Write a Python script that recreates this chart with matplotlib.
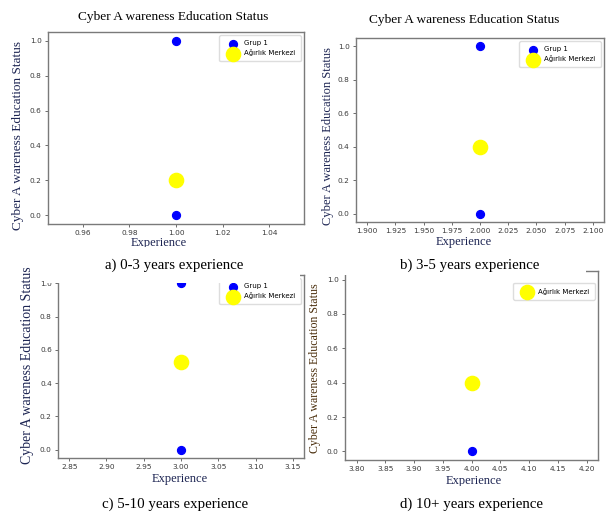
import matplotlib
matplotlib.use("Agg")
import matplotlib.pyplot as plt
from matplotlib.patches import Rectangle

# veriler
deneyim = [1, 2, 3, 4]
grup1_a = [0, 1]
grup1_b = [0, 1]
grup1_c = [0, 1]
grup1_d = [0]
merkez = [0.2, 0.4, 0.525, 0.4]
alt_yazilar = ["a) 0-3 years experience", "b) 3-5 years experience",
               "c) 5-10 years experience", "d) 10+ years experience"]

W, H = 606, 512
SERIF = "Liberation Serif"
fig = plt.figure(figsize=(W / 100, H / 100), dpi=100)


def kutu(x0, y0, x1, y1):
    # piksel -> figur orani
    return [x0 / W, 1 - y1 / H, (x1 - x0) / W, (y1 - y0) / H]


def yazi(x, y, s, **kw):
    return fig.text(x / W, 1 - y / H, s, ha="center", va="center", **kw)


def panel(rect, x, grup, m, legend_grup=True, anchor=(1, 1)):
    ax = fig.add_axes(kutu(*rect))
    ax.scatter([x] * len(grup), grup, s=32, color="#0000ff",
               label="Grup 1" if legend_grup else "_nolegend_", zorder=3)
    ax.scatter([x], [m], s=105, color="#ffff00", label="Ağırlık Merkezi", zorder=3)
    ax.set_ylim(-0.05, 1.05)
    ax.tick_params(labelsize=5.3, labelcolor="#3a3a3a", color="#555555",
                   length=2.5, width=0.6, pad=2)
    for sp in ax.spines.values():
        sp.set_color("#7a7a7a")
        sp.set_linewidth(1.0)
    ax.legend(loc="upper right", bbox_to_anchor=anchor, fontsize=5, framealpha=1,
              edgecolor="#dddddd", borderpad=0.7, labelspacing=0.45,
              handletextpad=0.3, handlelength=2.6)
    return ax


# a) 0-3
panel((48, 32, 304, 224), deneyim[0], grup1_a, merkez[0])
yazi(173, 17, "Cyber A wareness Education Status", family=SERIF, fontsize=9.6)
yazi(18, 136, "Cyber A wareness Education Status", family=SERIF, fontsize=9.5,
     rotation=90, color="#1c2452")
yazi(159, 243, "Experience", family=SERIF, fontsize=9, color="#1c2452")

# b) 3-5
panel((356, 38, 604, 222), deneyim[1], grup1_b, merkez[1])
yazi(464, 20, "Cyber A wareness Education Status", family=SERIF, fontsize=9.6)
yazi(328, 136, "Cyber A wareness Education Status", family=SERIF, fontsize=9,
     rotation=90, color="#1c2452")
yazi(464, 242, "Experience", family=SERIF, fontsize=9, color="#1c2452")

# c) 5-10
panel((58, 275, 304, 458), deneyim[2], grup1_c, merkez[2])
yazi(28, 365, "Cyber A wareness Education Status", family=SERIF, fontsize=10,
     rotation=90, color="#1c2452")
yazi(180, 479, "Experience", family=SERIF, fontsize=9, color="#1c2452")

# d) 10+
panel((345, 271, 598, 460), deneyim[3], grup1_d, merkez[3], legend_grup=False,
      anchor=(1.0, 0.955))
yazi(315, 368, "Cyber A wareness Education Status", family=SERIF, fontsize=8.6,
     rotation=90, color="#4a2e0c")
yazi(474, 481, "Experience", family=SERIF, fontsize=9, color="#1c2452")

# ekran goruntusu kirpmalari
for x0, y0, x1, y1 in [(45, 247, 300, 283), (330, 249, 586, 275), (320, 486, 600, 495)]:
    fig.add_artist(Rectangle((x0 / W, 1 - y1 / H), (x1 - x0) / W, (y1 - y0) / H,
                             transform=fig.transFigure, facecolor="white",
                             edgecolor="none", zorder=5))

# alt yazilar
for (cx, cy), t in zip([(174, 265), (470, 265), (175, 504), (471, 504)], alt_yazilar):
    yazi(cx, cy, t, family=SERIF, fontsize=10.7, zorder=6)

fig.savefig("out.png", dpi=100)
